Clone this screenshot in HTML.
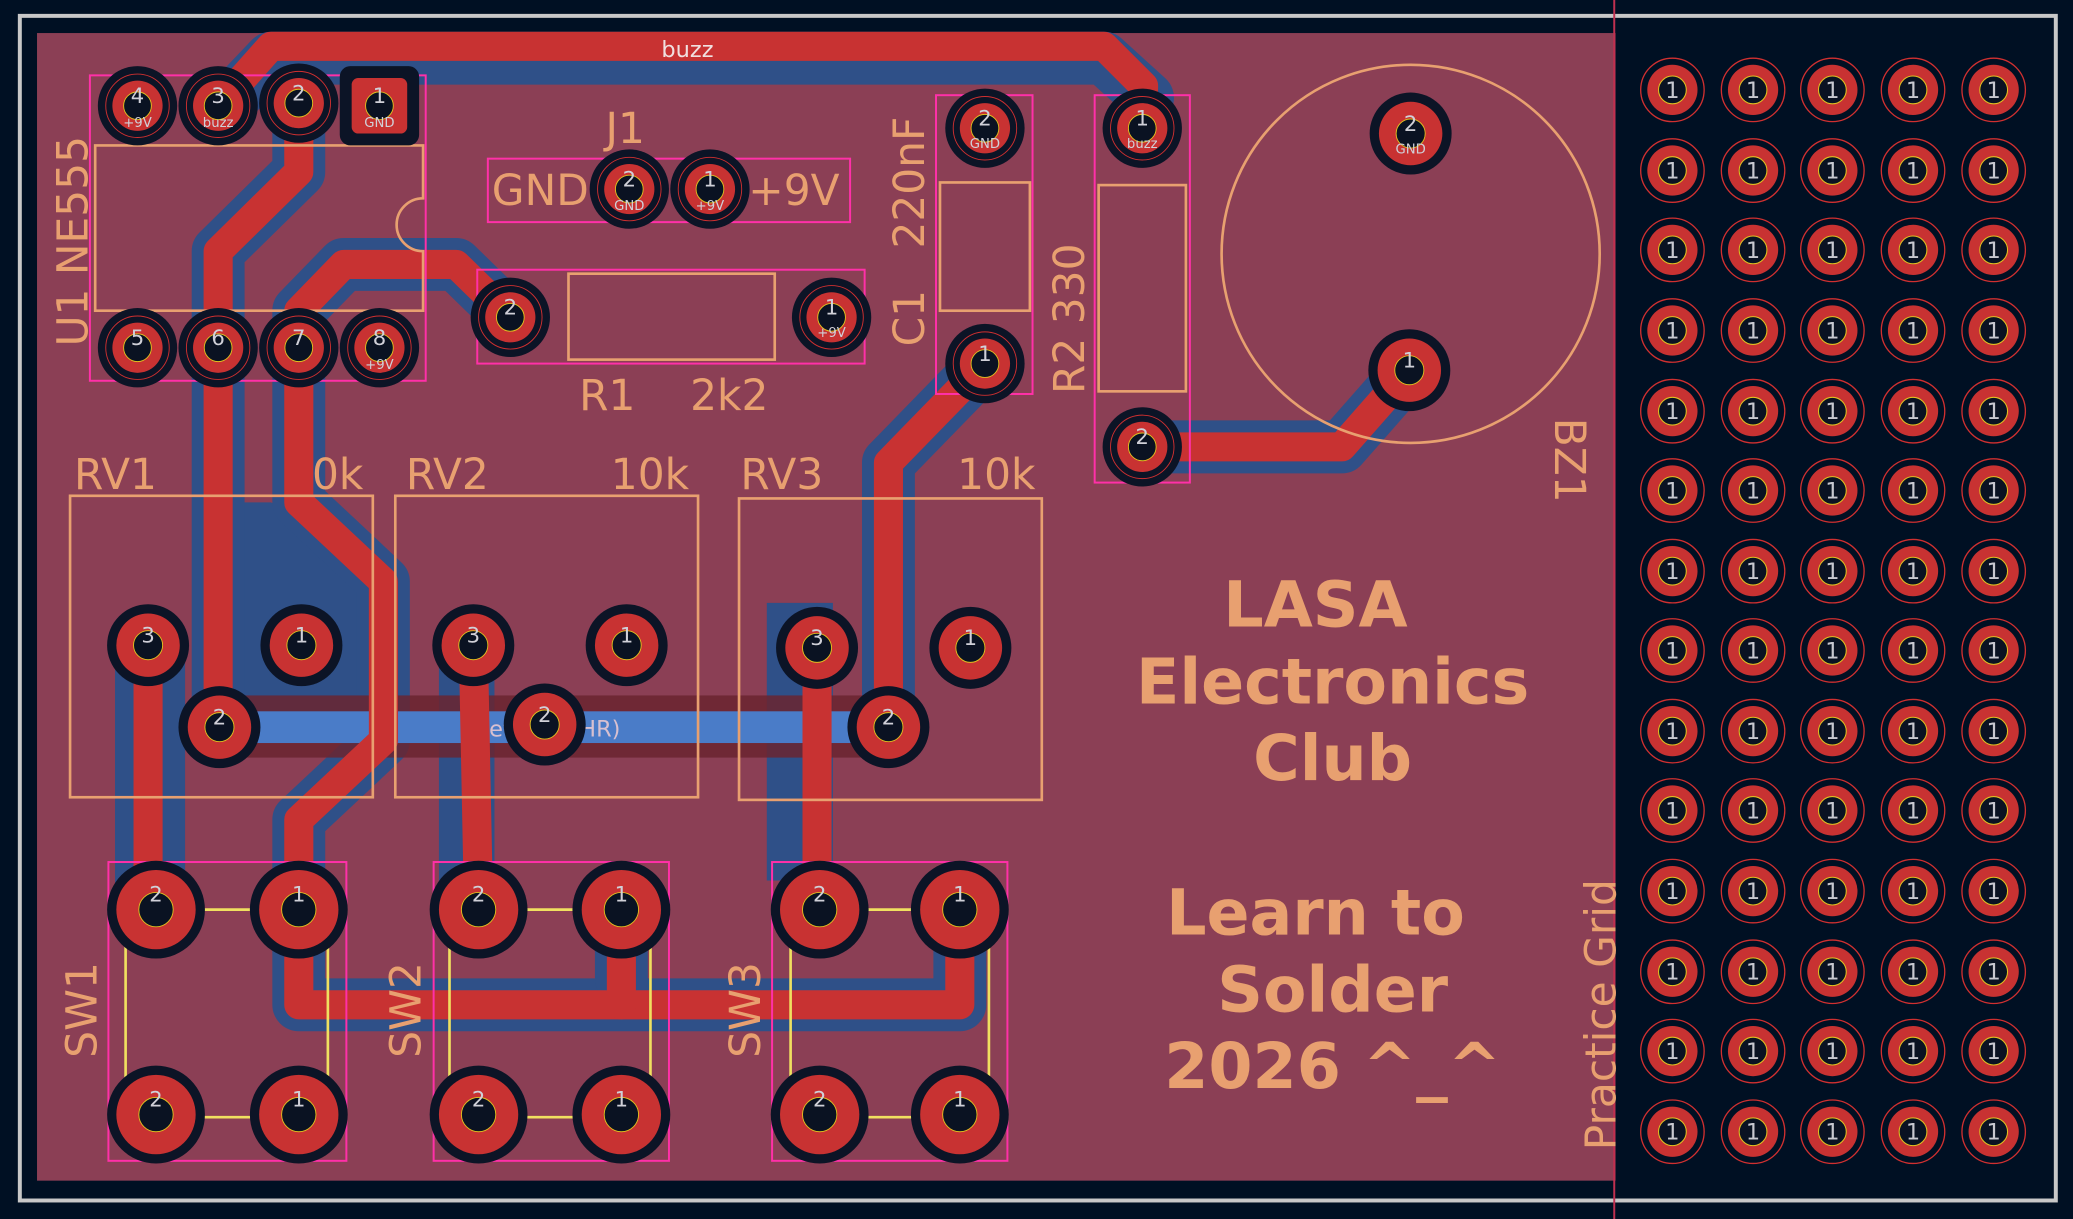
<!DOCTYPE html>
<html><head><meta charset="utf-8"><style>
html,body{margin:0;padding:0;background:#001023;}
svg{display:block}
text{font-family:"DejaVu Sans","Liberation Sans",sans-serif;}
</style></head><body>
<svg width="2073" height="1219" viewBox="0 0 1568 922" preserveAspectRatio="none" xmlns="http://www.w3.org/2000/svg">
<defs>
<g id="gp"><circle r="30" fill="#0c1426"/><circle r="24" fill="none" stroke="#d03030" stroke-width="0.7"/><circle r="19" fill="#c83232"/><circle r="10.5" fill="#0a1222" stroke="#e0c020" stroke-width="0.7"/></g>
<g id="tp"><circle r="31" fill="#0c1426"/><circle r="24" fill="#c83232"/><circle r="11" fill="#0a1222" stroke="#e0c020" stroke-width="0.7"/></g>
<g id="sp"><circle r="37" fill="#0c1426"/><circle r="30" fill="#c83232"/><circle r="13" fill="#0a1222" stroke="#e0c020" stroke-width="0.7"/></g>
<g id="cp"><circle r="24" fill="none" stroke="#d03030" stroke-width="1"/><circle r="19" fill="#c83232"/><circle r="10.5" fill="#0a1222" stroke="#e0c020" stroke-width="0.8"/><text y="6" font-size="17" fill="#c8c8d0" text-anchor="middle">1</text></g>
<g id="row">
<use href="#cp" x="1265"/><use href="#cp" x="1326"/><use href="#cp" x="1386"/><use href="#cp" x="1447"/><use href="#cp" x="1508"/>
</g>
</defs>
<rect width="1568" height="922" fill="#001023"/>
<rect x="15" y="12" width="1540" height="896" fill="none" stroke="#c8c8c8" stroke-width="3"/>
<rect x="28" y="25" width="1194" height="868" fill="#8b3f55"/>
<line x1="1221" y1="0" x2="1221" y2="922" stroke="#c03050" stroke-width="1.5"/>

<!-- back (blue) copper -->
<g fill="#2f5088" stroke="none">
<polygon points="150,380 205,380 300,430 300,545 180,545 150,530"/>
<rect x="87" y="480" width="53" height="220"/>
<rect x="580" y="456" width="50" height="210"/>
<rect x="332" y="480" width="42" height="210"/>
</g>
<g fill="none" stroke="#2f5088" stroke-width="40" stroke-linejoin="round" stroke-linecap="round">
<path d="M165,86 L205,44 L835,44 L868,74 L864,97"/>
<path d="M226,78 L226,130 L165,190 L165,550"/>
<path d="M386,240 L345,200 L260,200 L226,235 L226,380 L290,440 L290,560 L226,620 L226,760 L726,760 L726,688"/>
<path d="M470,688 L470,740"/>
<path d="M672,550 L672,350 L745,275"/><path d="M864,338 L1015,338 L1066,280"/>
</g>
<rect x="185" y="526" width="480" height="47" fill="#6a2430" opacity="0.85"/>
<rect x="166" y="538" width="506" height="24" fill="#4a7cc8"/>
<text x="370" y="557" font-size="17" fill="#d8c0d0">et-(U1-THR)</text>
<!-- front (red) traces -->
<g fill="none" stroke="#c83232" stroke-width="22" stroke-linejoin="round" stroke-linecap="round">
<path d="M165,80 L205,35 L835,35 L865,65 L864,97"/>
<path d="M226,78 L226,130 L165,190 L165,550"/>
<path d="M386,240 L345,200 L260,200 L226,235 L226,380 L290,440 L290,560 L226,620 L226,760 L726,760 L726,688"/>
<path d="M470,688 L470,760"/><path d="M112,488 L112,688"/><path d="M358,488 L362,688"/><path d="M618,488 L618,688"/>
<path d="M672,550 L672,350 L745,275"/><path d="M864,338 L1015,338 L1066,280"/>
</g>
<text x="520" y="43" font-size="17" fill="#f0e0e0" text-anchor="middle">buzz</text>

<!-- silkscreen -->
<g fill="none" stroke="#e8a070" stroke-width="2">
<path d="M72,110 L320,110 L320,150 A20,20 0 0 0 320,190 L320,235 L72,235 Z"/>
<rect x="430" y="207" width="156" height="65"/>
<rect x="711" y="138" width="68" height="97"/>
<rect x="831" y="140" width="66" height="156"/>
<rect x="53" y="375" width="229" height="228"/>
<rect x="299" y="375" width="229" height="228"/>
<rect x="559" y="377" width="229" height="228"/>
<circle cx="1067" cy="192" r="143"/>
</g>
<g fill="none" stroke="#f0e060" stroke-width="2">
<path d="M95,705 V830 M248,705 V830 M140,688 H204 M140,845 H204"/>
<path d="M340,705 V830 M492,705 V830 M384,688 H448 M384,845 H448"/>
<path d="M598,705 V830 M748,705 V830 M642,688 H704 M642,845 H704"/>
</g>
<g fill="none" stroke="#ff30a8" stroke-width="1.5">
<rect x="68" y="57" width="254" height="231"/>
<rect x="369" y="120" width="274" height="48"/>
<rect x="361" y="204" width="293" height="71"/>
<rect x="708" y="72" width="73" height="226"/>
<rect x="828" y="72" width="72" height="293"/>
<rect x="82" y="652" width="180" height="226"/>
<rect x="328" y="652" width="178" height="226"/>
<rect x="584" y="652" width="178" height="226"/>
</g>
<g fill="#e8a070" font-size="32">
<text transform="translate(66,262) rotate(-90)">U1 NE555</text>
<text x="458" y="108">J1</text>
<text x="372" y="155">GND</text>
<text x="566" y="155">+9V</text>
<text transform="translate(699,188) rotate(-90)">220nF</text>
<text transform="translate(699,262) rotate(-90)">C1</text>
<text transform="translate(820,298) rotate(-90)">R2 330</text>
<text x="438" y="310">R1</text><text x="522" y="310">2k2</text>
<text x="56" y="370">RV1</text><text x="236" y="370">0k</text>
<text x="307" y="370">RV2</text><text x="462" y="370">10k</text>
<text x="560" y="370">RV3</text><text x="724" y="370">10k</text>
<text transform="translate(1176,316) rotate(90)">BZ1</text>
<text transform="translate(73,800) rotate(-90)">SW1</text>
<text transform="translate(318,800) rotate(-90)">SW2</text>
<text transform="translate(575,800) rotate(-90)">SW3</text>
<text transform="translate(1222,870) rotate(-90)">Practice Grid</text>
</g>
<g fill="#e8a070" font-size="48" font-weight="bold" text-anchor="middle">
<text x="995" y="474">LASA</text><text x="1008" y="532">Electronics</text><text x="1008" y="590">Club</text>
<text x="995" y="707">Learn to</text><text x="1008" y="765">Solder</text><text x="1008" y="823">2026 ^_^</text>
</g>

<!-- pads -->
<g font-size="16" fill="#d0d0d8" text-anchor="middle">
<use href="#gp" x="104" y="80"/><text x="104" y="78">4</text><text x="104" y="96" font-size="10">+9V</text>
<use href="#gp" x="165" y="80"/><text x="165" y="78">3</text><text x="165" y="96" font-size="10">buzz</text>
<use href="#gp" x="226" y="78"/><text x="226" y="76">2</text>
<rect x="257" y="50" width="60" height="60" rx="8" fill="#0c1426"/><rect x="266" y="59" width="42" height="42" rx="5" fill="#c83232"/><circle cx="287" cy="80" r="10.5" fill="#0a1222" stroke="#e0c020" stroke-width="0.7"/><text x="287" y="78">1</text><text x="287" y="96" font-size="10">GND</text>
<use href="#gp" x="104" y="263"/><text x="104" y="261">5</text>
<use href="#gp" x="165" y="263"/><text x="165" y="261">6</text>
<use href="#gp" x="226" y="263"/><text x="226" y="261">7</text>
<use href="#gp" x="287" y="263"/><text x="287" y="261">8</text><text x="287" y="279" font-size="10">+9V</text>
<use href="#gp" x="476" y="143"/><text x="476" y="141">2</text><text x="476" y="159" font-size="10">GND</text>
<use href="#gp" x="537" y="143"/><text x="537" y="141">1</text><text x="537" y="159" font-size="10">+9V</text>
<use href="#gp" x="386" y="240"/><text x="386" y="238">2</text>
<use href="#gp" x="629" y="240"/><text x="629" y="238">1</text><text x="629" y="255" font-size="10">+9V</text>
<use href="#gp" x="745" y="97"/><text x="745" y="95">2</text><text x="745" y="112" font-size="10">GND</text>
<use href="#gp" x="745" y="275"/><text x="745" y="273">1</text>
<use href="#gp" x="864" y="97"/><text x="864" y="95">1</text><text x="864" y="112" font-size="10">buzz</text>
<use href="#gp" x="864" y="338"/><text x="864" y="336">2</text>
<use href="#tp" x="1067" y="101"/><text x="1067" y="99">2</text><text x="1067" y="116" font-size="10">GND</text>
<use href="#tp" x="1066" y="280"/><text x="1066" y="278">1</text>
<use href="#tp" x="112" y="488"/><text x="112" y="486">3</text>
<use href="#tp" x="228" y="488"/><text x="228" y="486">1</text>
<use href="#tp" x="166" y="550"/><text x="166" y="548">2</text>
<use href="#tp" x="358" y="488"/><text x="358" y="486">3</text>
<use href="#tp" x="474" y="488"/><text x="474" y="486">1</text>
<use href="#tp" x="412" y="548"/><text x="412" y="546">2</text>
<use href="#tp" x="618" y="490"/><text x="618" y="488">3</text>
<use href="#tp" x="734" y="490"/><text x="734" y="488">1</text>
<use href="#tp" x="672" y="550"/><text x="672" y="548">2</text>
<use href="#sp" x="118" y="688"/><text x="118" y="682">2</text>
<use href="#sp" x="226" y="688"/><text x="226" y="682">1</text>
<use href="#sp" x="118" y="843"/><text x="118" y="837">2</text>
<use href="#sp" x="226" y="843"/><text x="226" y="837">1</text>
<use href="#sp" x="362" y="688"/><text x="362" y="682">2</text>
<use href="#sp" x="470" y="688"/><text x="470" y="682">1</text>
<use href="#sp" x="362" y="843"/><text x="362" y="837">2</text>
<use href="#sp" x="470" y="843"/><text x="470" y="837">1</text>
<use href="#sp" x="620" y="688"/><text x="620" y="682">2</text>
<use href="#sp" x="726" y="688"/><text x="726" y="682">1</text>
<use href="#sp" x="620" y="843"/><text x="620" y="837">2</text>
<use href="#sp" x="726" y="843"/><text x="726" y="837">1</text>
</g>

<!-- practice grid -->
<use href="#row" y="68"/><use href="#row" y="129"/><use href="#row" y="189"/><use href="#row" y="250"/>
<use href="#row" y="311"/><use href="#row" y="371"/><use href="#row" y="432"/><use href="#row" y="492"/>
<use href="#row" y="553"/><use href="#row" y="613"/><use href="#row" y="674"/><use href="#row" y="735"/>
<use href="#row" y="795"/><use href="#row" y="856"/>
</svg>
</body></html>
